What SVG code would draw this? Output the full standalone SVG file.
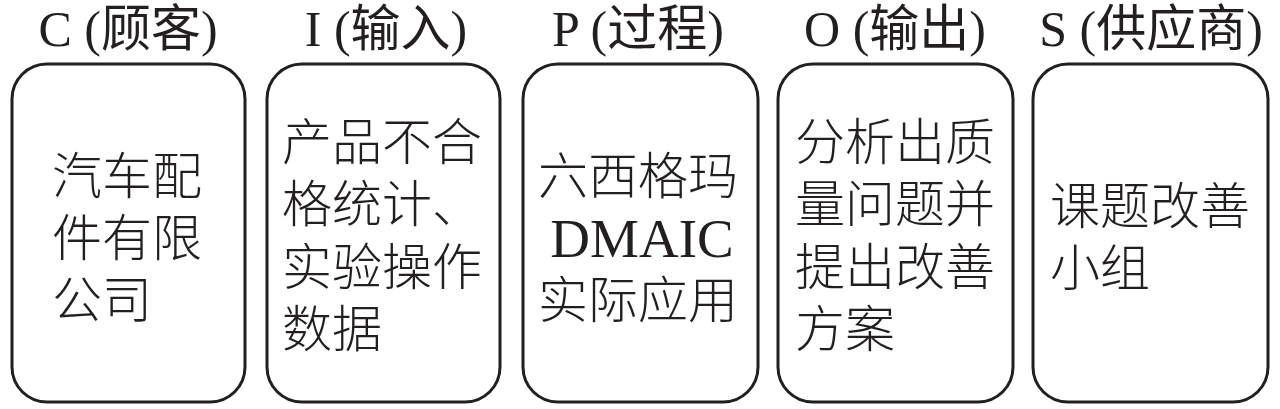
<svg xmlns="http://www.w3.org/2000/svg" width="1280" height="409" viewBox="0 0 1280 409">
<style>
.box{fill:#fff;stroke:#231f20;stroke-width:3}
.hd{font-family:"Liberation Serif","Noto Sans CJK SC",serif;font-size:50px;fill:#231f20;text-anchor:middle}
.tx{font-family:"Noto Sans CJK SC","Liberation Serif",sans-serif;font-size:50px;fill:#231f20;font-weight:300}
.lat{font-family:"Liberation Serif",serif;font-size:55px;fill:#231f20;text-anchor:middle}
</style>
<rect width="1280" height="409" fill="#fff"/>
<g id="C">
<text class="hd" x="128" y="46">C (顾客)</text>
<rect class="box" x="12" y="64" width="233" height="338" rx="35"/>
<text class="tx"><tspan x="52" y="194">汽车配</tspan><tspan x="52" y="256">件有限</tspan><tspan x="52" y="318">公司</tspan></text>
</g>
<g id="I">
<text class="hd" x="386" y="46">I (输入)</text>
<rect class="box" x="267" y="64" width="233" height="338" rx="35"/>
<text class="tx"><tspan x="282" y="160">产品不合</tspan><tspan x="282" y="222">格统计、</tspan><tspan x="282" y="285">实验操作</tspan><tspan x="282" y="347">数据</tspan></text>
</g>
<g id="P">
<text class="hd" x="638" y="46">P (过程)</text>
<rect class="box" x="523" y="64" width="235" height="338" rx="35"/>
<text class="tx"><tspan x="538" y="194">六西格玛</tspan></text>
<text class="lat" x="642" y="257">DMAIC</text>
<text class="tx"><tspan x="538" y="318">实际应用</tspan></text>
</g>
<g id="O">
<text class="hd" x="895" y="46">O (输出)</text>
<rect class="box" x="778" y="64" width="235" height="338" rx="35"/>
<text class="tx"><tspan x="795" y="160">分析出质</tspan><tspan x="795" y="222">量问题并</tspan><tspan x="795" y="285">提出改善</tspan><tspan x="795" y="347">方案</tspan></text>
</g>
<g id="S">
<text class="hd" x="1151" y="46">S (供应商)</text>
<rect class="box" x="1033" y="64" width="235" height="338" rx="35"/>
<text class="tx"><tspan x="1050" y="224">课题改善</tspan><tspan x="1050" y="286">小组</tspan></text>
</g>
<g id="connectors"/>
</svg>
